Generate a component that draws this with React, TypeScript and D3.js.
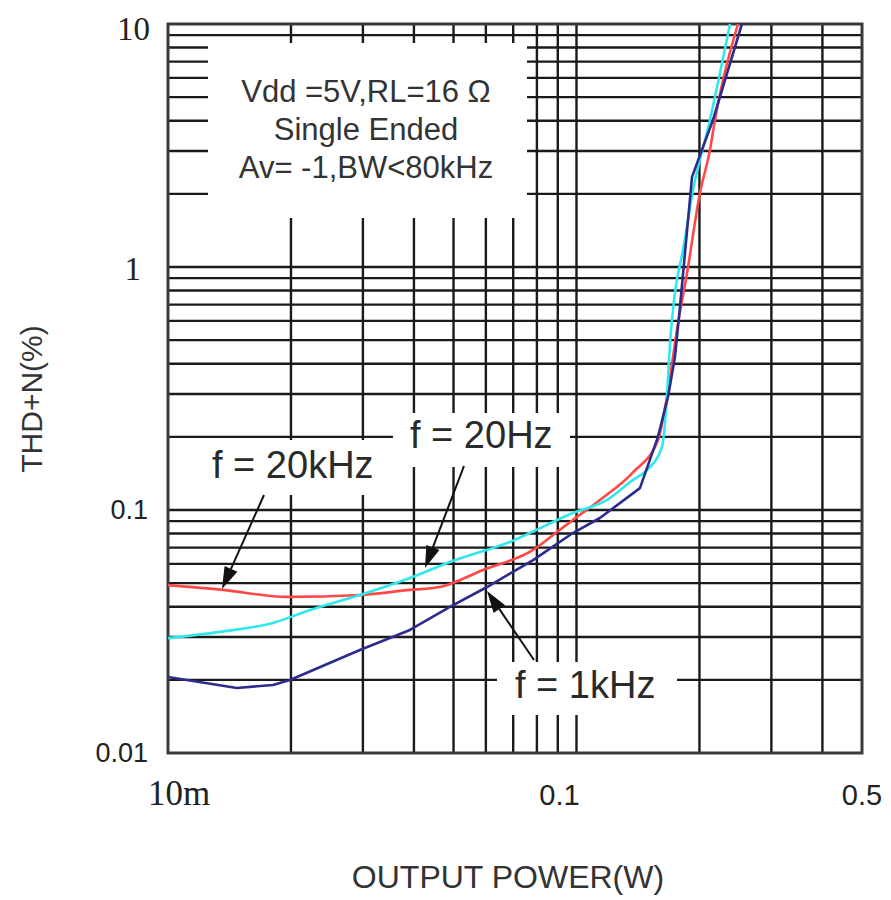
import React from "react";
import * as d3 from "d3";

// ---- data ----
const powerRange = [0.01, 0.5];
const thdRange = [0.01, 10];

const xTickValues = [0.01, 0.1, 0.5];
const xTickLabels = ["10m", "0.1", "0.5"];
const yTickValues = [0.01, 0.1, 1, 10];
const yTickLabels = ["0.01", "0.1", "1", "10"];

const power20k = [0.01, 0.01364, 0.01956, 0.0295, 0.0391, 0.0463, 0.059, 0.0783, 0.0896, 0.098, 0.1141, 0.1375, 0.1583, 0.1665, 0.1773, 0.1865, 0.2006, 0.2122, 0.2183, 0.2485];
const thd20k = [0.0491, 0.0469, 0.0439, 0.0447, 0.0469, 0.0482, 0.0566, 0.0685, 0.0812, 0.091, 0.11, 0.143, 0.194, 0.292, 0.589, 0.945, 2.02, 3.03, 4.03, 10];

const power20 = [0.01, 0.01394, 0.01807, 0.02227, 0.0295, 0.0391, 0.049, 0.0687, 0.098, 0.1188, 0.1375, 0.1488, 0.1619, 0.1665, 0.1694, 0.1742, 0.1823, 0.1929, 0.2122, 0.2376];
const thd20 = [0.0297, 0.0318, 0.0343, 0.0388, 0.0447, 0.0525, 0.0611, 0.0739, 0.0972, 0.11, 0.133, 0.146, 0.182, 0.292, 0.487, 0.782, 1.175, 2.07, 4.03, 10];

const power1k = [0.01, 0.01475, 0.01807, 0.01989, 0.0295, 0.0391, 0.049, 0.0604, 0.0783, 0.098, 0.1141, 0.143, 0.1583, 0.1675, 0.1742, 0.1792, 0.1918, 0.2159, 0.2541];
const thd1k = [0.02055, 0.01852, 0.01905, 0.01997, 0.02654, 0.0321, 0.0399, 0.0482, 0.0622, 0.0804, 0.0927, 0.123, 0.2, 0.292, 0.426, 0.684, 2.35, 4.03, 10];

const conditionLines = ["Vdd =5V,RL=16 \u03A9", "Single Ended", "Av= -1,BW<80kHz"];
const seriesNames = ["f = 20kHz", "f = 20Hz", "f = 1kHz"];

// ---- layout ----
const W = 891;
const H = 900;
const L = 168, R = 862, T = 24, B = 753;

const x = d3.scaleLog().domain(powerRange).range([L, R]);
const y = d3.scaleLog().domain(thdRange).range([B, T]);

const xGrid = x.ticks().filter((v) => v > powerRange[0] * 1.0001 && v < powerRange[1] * 0.9999);
const yGrid = y.ticks().filter((v) => v > thdRange[0] * 1.0001 && v < thdRange[1] * 0.9999);

const zip = (xs: number[], ys: number[]) => xs.map((v, i) => [v, ys[i]] as [number, number]);

const smooth = d3
  .line<[number, number]>()
  .x((d) => x(d[0]))
  .y((d) => y(d[1]))
  .curve(d3.curveMonotoneX);
const straight = d3
  .line<[number, number]>()
  .x((d) => x(d[0]))
  .y((d) => y(d[1]));

const series = [
  { pts: zip(power20k, thd20k), color: "#ff4848", gen: smooth },
  { pts: zip(power20, thd20), color: "#30e8ec", gen: smooth },
  { pts: zip(power1k, thd1k), color: "#2c2c8c", gen: straight },
];

// white masks behind texts
const masks = [
  { x: 208, y: 43, w: 319, h: 175 },
  { x: 180, y: 440, w: 215, h: 55 },
  { x: 393, y: 413, w: 177, h: 54 },
  { x: 497, y: 662, w: 180, h: 53 },
];

const arrows = [
  { x1: 264, y1: 495, x2: 222, y2: 589 },
  { x1: 464, y1: 466, x2: 425, y2: 568 },
  { x1: 534, y1: 660, x2: 487, y2: 591 },
];

function Arrow({ x1, y1, x2, y2 }: { x1: number; y1: number; x2: number; y2: number }) {
  const ang = Math.atan2(y2 - y1, x2 - x1);
  const len = 22, half = 7;
  const bx = x2 - len * Math.cos(ang);
  const by = y2 - len * Math.sin(ang);
  const px = -Math.sin(ang) * half;
  const py = Math.cos(ang) * half;
  return (
    <g>
      <line x1={x1} y1={y1} x2={bx} y2={by} stroke="#111" strokeWidth={2} />
      <polygon points={`${x2},${y2} ${bx + px},${by + py} ${bx - px},${by - py}`} fill="#111" />
    </g>
  );
}

export default function App() {
  const sans = "'Liberation Sans', Arial, sans-serif";
  const serif = "'Liberation Serif', 'Times New Roman', serif";
  return (
    <svg width={W} height={H} style={{ position: "absolute", left: 0, top: 0, background: "#fff" }}>
      <rect x={0} y={0} width={W} height={H} fill="#fff" />
      {/* grid */}
      <g stroke="#1a1a1a" strokeWidth={2.4}>
        {xGrid.map((v, i) => (
          <line key={"gx" + i} x1={x(v)} x2={x(v)} y1={T} y2={B} />
        ))}
        {yGrid.map((v, i) => (
          <line key={"gy" + i} x1={L} x2={R} y1={y(v)} y2={y(v)} />
        ))}
      </g>
      {masks.map((m, i) => (
        <rect key={"m" + i} x={m.x} y={m.y} width={m.w} height={m.h} fill="#fff" />
      ))}
      {/* frame */}
      <rect x={L} y={T} width={R - L} height={B - T} fill="none" stroke="#3a3a3a" strokeWidth={3} />
      {/* curves */}
      {series.map((s, i) => (
        <path key={"s" + i} d={s.gen(s.pts) || ""} fill="none" stroke={s.color} strokeWidth={2.6} strokeLinejoin="round" />
      ))}
      {/* condition text */}
      <g fontFamily={sans} fontSize={31} fill="#333" textAnchor="middle">
        {conditionLines.map((t, i) => (
          <text key={"c" + i} x={366} y={102 + i * 38}>
            {t}
          </text>
        ))}
      </g>
      {/* series labels */}
      <g fontFamily={sans} fontSize={38} fill="#2a2a2a">
        <text x={212} y={478}>{seriesNames[0]}</text>
        <text x={410} y={448}>{seriesNames[1]}</text>
        <text x={515} y={698}>{seriesNames[2]}</text>
      </g>
      {arrows.map((a, i) => (
        <Arrow key={"a" + i} {...a} />
      ))}
      {/* y tick labels */}
      {yTickValues.map((v, i) => {
        const isSerif = v >= 1;
        return (
          <text
            key={"yt" + i}
            x={v === 1 ? 141 : v === 10 ? 150 : 148}
            y={y(v) + (v === 10 ? 4 : v === 1 ? 1 : 0)}
            dy="0.35em"
            textAnchor="end"
            fontFamily={isSerif ? serif : sans}
            fontSize={isSerif ? 33 : 27}
            fill="#222"
          >
            {yTickLabels[i]}
          </text>
        );
      })}
      {/* x tick labels */}
      {xTickValues.map((v, i) => {
        const isSerif = i === 0;
        const dx = i === 0 ? 11 : i === 1 ? -17 : 0;
        return (
          <text
            key={"xt" + i}
            x={x(v) + dx}
            y={805}
            textAnchor="middle"
            fontFamily={isSerif ? serif : sans}
            fontSize={isSerif ? 35 : 29}
            fill="#222"
          >
            {xTickLabels[i]}
          </text>
        );
      })}
      {/* axis titles */}
      <text x={508} y={888} textAnchor="middle" fontFamily={sans} fontSize={32} fill="#333">
        OUTPUT POWER(W)
      </text>
      <text
        transform={`translate(42,399) rotate(-90)`}
        textAnchor="middle"
        fontFamily={sans}
        fontSize={30}
        fill="#333"
      >
        THD+N(%)
      </text>
    </svg>
  );
}
